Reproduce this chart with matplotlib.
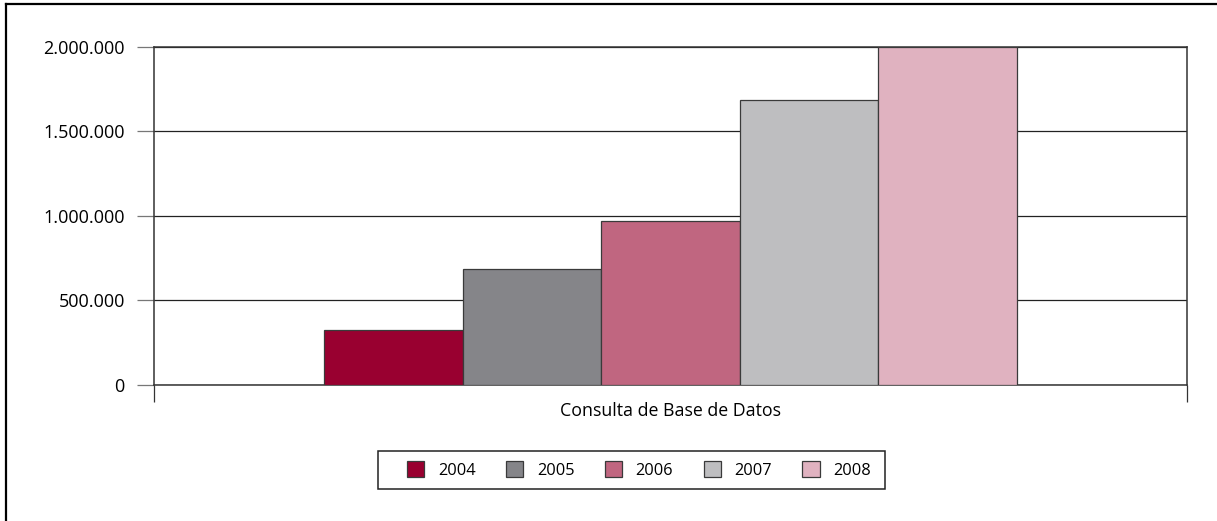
import matplotlib.pyplot as plt
from matplotlib.lines import Line2D
from matplotlib.patches import Rectangle
from matplotlib.ticker import FuncFormatter

# datos
years = ["2004", "2005", "2006", "2007", "2008"]
values = [321000, 686000, 970000, 1686000, 2000000]
colors = ["#990030", "#858589", "#c06680", "#bebec0", "#e0b2c0"]
category = "Consulta de Base de Datos"
yticks = [0, 500000, 1000000, 1500000, 2000000]

plt.rcParams['font.family'] = ['Open Sans', 'DejaVu Sans']
FS_TICK = 13
FS_CAT = 12.8
FS_LEG = 11.8

W, H = 1217, 521
fig = plt.figure(figsize=(W / 100, H / 100), dpi=100)
ax = fig.add_axes([154 / W, 1 - 384.5 / H, (1187 - 154) / W, (384.5 - 47) / H])

bar_w = 0.134
n = len(years)
for i, (yr, v, c) in enumerate(zip(years, values, colors)):
    x = (i - (n - 1) / 2) * bar_w
    ax.bar(x, v, width=bar_w, color=c, edgecolor="#3a3a3a", linewidth=0.9,
           label=yr, zorder=3)

ax.set_xlim(-0.5, 0.5)
ax.set_ylim(0, 2000000)
ax.set_yticks(yticks)
ax.yaxis.set_major_formatter(FuncFormatter(lambda v, p: f"{int(v):,}".replace(",", ".")))
ax.grid(axis='y', color="#222222", linewidth=0.9, zorder=1)
ax.tick_params(axis='y', length=12, width=0.9, color="#777777", pad=9, labelsize=FS_TICK)

ax.set_xticks([-0.49999, 0.49999])
ax.set_xticklabels(["", ""])
ax.tick_params(axis='x', length=12, width=0.9, color="#333333")
ax.text(0.5, -0.08, category, transform=ax.transAxes, ha='center', va='center', fontsize=FS_CAT)

for s in ax.spines.values():
    s.set_color("#333333")
    s.set_linewidth(1.1)

leg = fig.legend(loc='center', bbox_to_anchor=(639 / W, 1 - 470 / H), ncol=5,
                 frameon=False, handlelength=1.04, handleheight=1.04, columnspacing=1.85,
                 handletextpad=0.85, fontsize=FS_LEG)
# marco de la leyenda
fig.add_artist(Rectangle((378 / W, 1 - 489 / H), (885 - 378) / W, 38 / H,
                         transform=fig.transFigure, fill=False,
                         edgecolor="#222222", linewidth=1.1))

# marco exterior
fig.add_artist(Line2D([6 / W, 6 / W], [0, 1 - 4 / H], color="black", linewidth=1.6))
fig.add_artist(Line2D([6 / W, 1], [1 - 4 / H, 1 - 4 / H], color="black", linewidth=1.6))

fig.savefig("out.png", dpi=100)
